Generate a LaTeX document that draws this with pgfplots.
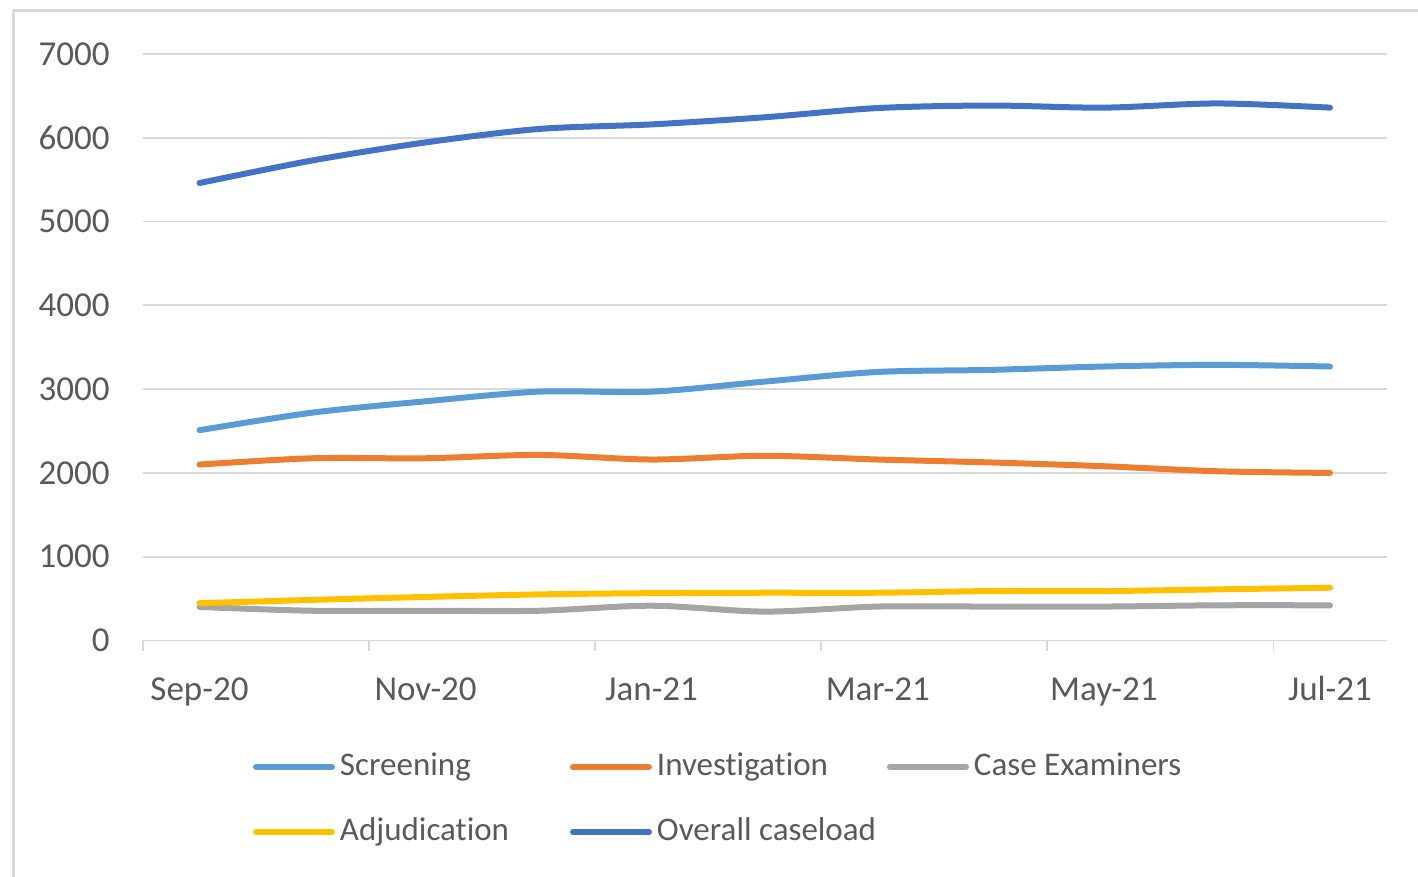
\documentclass[border=0pt]{standalone}
\usepackage{fontspec}
\setmainfont{Carlito}[Ligatures=NoCommon]
\usepackage{pgfplots}
\usepackage{pgfplotstable}
\pgfplotsset{compat=1.18}

\definecolor{screening}{HTML}{5B9BD5}
\definecolor{investigation}{HTML}{ED7D31}
\definecolor{examiners}{HTML}{A5A5A5}
\definecolor{adjudication}{HTML}{FFC000}
\definecolor{overall}{HTML}{4472C4}
\definecolor{gridgray}{HTML}{D9D9D9}
\definecolor{labelgray}{HTML}{595959}

% Monthly caseload by stage (month index 0.5 = Sep-20 ... 10.5 = Jul-21)
\pgfplotstableread{
m    scr  inv  cex adj tot
0.5  2510 2100 400 445 5460
1.5  2720 2175 355 485 5730
2.5  2855 2175 355 520 5945
3.5  2970 2215 355 550 6105
4.5  2970 2160 415 565 6160
5.5  3090 2205 345 570 6245
6.5  3205 2160 405 570 6355
7.5  3230 2125 405 590 6385
8.5  3270 2080 405 590 6360
9.5  3290 2020 420 610 6410
10.5 3270 2000 420 630 6360
}\caseload

\begin{document}
\begin{tikzpicture}
\path[use as bounding box] (0pt,0pt) rectangle (709pt,438.5pt);
\draw[gridgray, line width=1.5pt] (6.5pt,0pt) -- (6.5pt,433.25pt) -- (709pt,433.25pt);

\begin{axis}[
  at={(71.5pt,118.25pt)}, anchor=south west,
  scale only axis,
  width=621.75pt, height=293.25pt,
  xmin=0, xmax=11, ymin=0, ymax=7000,
  axis line style={draw=none},
  ymajorgrids,
  grid style={gridgray, line width=0.9pt},
  ytick={0,1000,...,7000},
  xtick={0.5,2.5,4.5,6.5,8.5,10.5},
  xticklabels={Sep-20,Nov-20,Jan-21,Mar-21,May-21,Jul-21},
  extra x ticks={0,2,4,6,8,10},
  extra x tick labels={},
  extra x tick style={major tick length=5.5pt, grid=none},
  tick style={gridgray, line width=0.9pt},
  major tick length=0pt,
  xtick pos=bottom, ytick pos=left, tick align=outside,
  ticklabel style={font=\fontsize{17.5}{20}\selectfont, text=labelgray, inner sep=0pt},
  xticklabel style={anchor=base, yshift=-30pt},
  yticklabel style={anchor=east, xshift=-16.5pt},
  /pgf/number format/assume math mode=true,
  /pgf/number format/1000 sep={},
  clip=false,
  legend columns=3,
  legend style={
    at={(rel axis cs:0.08846,-0.18841)}, anchor=north west,
    draw=none, fill=none, inner sep=0pt, outer sep=0pt,
    column sep=0pt, row sep=16.5pt,
    font=\fontsize{16.5}{19}\selectfont, text=labelgray,
    nodes={inner sep=0pt, text height=12pt, text depth=4pt, anchor=west},
  },
  legend image code/.code={\draw[#1] (1.5pt,0pt) -- (39.5pt,0pt);},
  every axis plot/.append style={line width=3pt, line cap=round, line join=round, smooth, tension=0.5},
]
\addplot[screening]     table[x=m, y=scr] {\caseload};
\addlegendentry{\makebox[117.5pt][l]{\hspace{2.5pt}Screening}}
\addplot[investigation] table[x=m, y=inv] {\caseload};
\addlegendentry{\makebox[117.5pt][l]{\hspace{2.5pt}Investigation}}
\addplot[examiners]     table[x=m, y=cex] {\caseload};
\addlegendentry{\makebox[117.5pt][l]{\hspace{2.5pt}Case Examiners}}
\addplot[adjudication]  table[x=m, y=adj] {\caseload};
\addlegendentry{\makebox[117.5pt][l]{\hspace{2.5pt}Adjudication}}
\addplot[overall]       table[x=m, y=tot] {\caseload};
\addlegendentry{\makebox[117.5pt][l]{\hspace{2.5pt}Overall caseload}}
\end{axis}
\end{tikzpicture}
\end{document}
